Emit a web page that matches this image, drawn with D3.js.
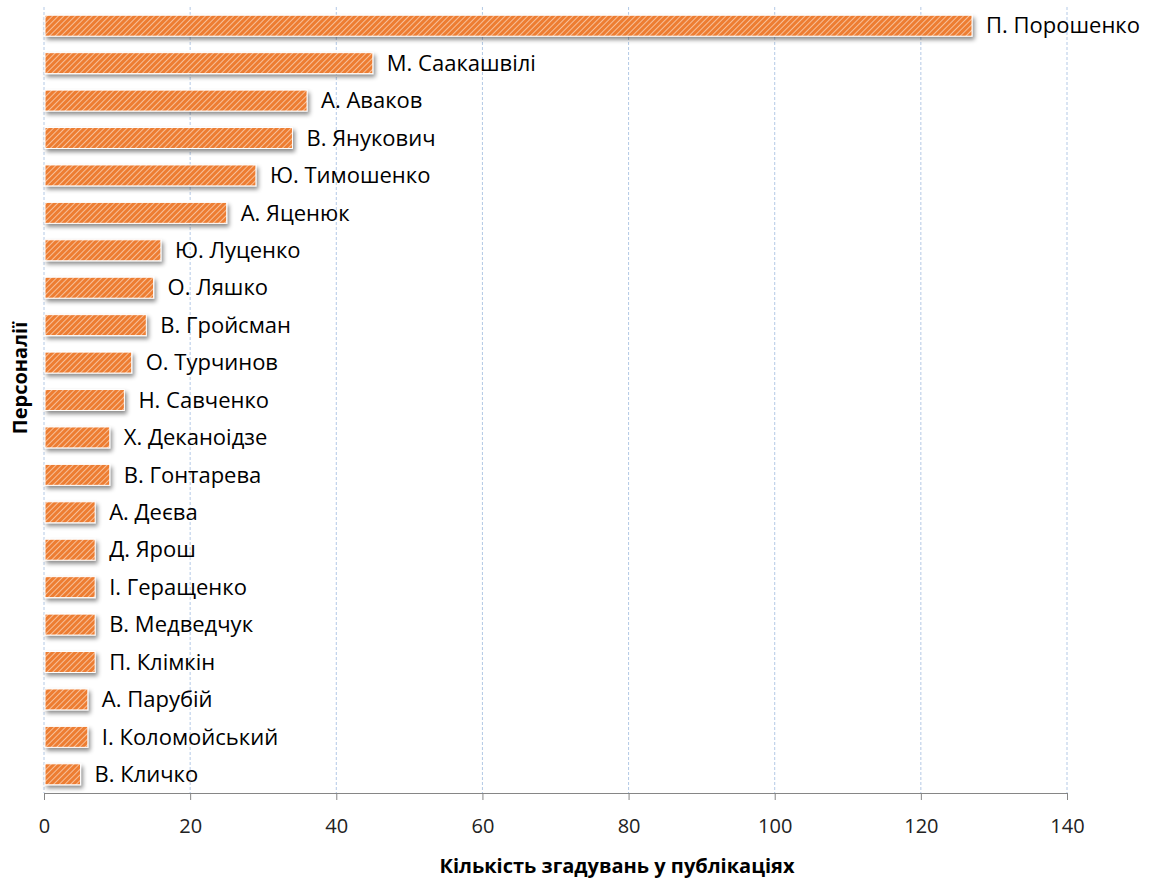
<!DOCTYPE html>
<html>
<head>
<meta charset="utf-8">
<script src="https://cdn.jsdelivr.net/npm/d3@7"></script>
<style>
	body { margin: 0; background: #fff; }
	svg { display: block; }
</style>
</head>
<body>
<svg id="chart" width="1150" height="879"></svg>
<script>
var names = ["П. Порошенко", "М. Саакашвілі", "А. Аваков", "В. Янукович", "Ю. Тимошенко",
	"А. Яценюк", "Ю. Луценко", "О. Ляшко", "В. Гройсман", "О. Турчинов", "Н. Савченко",
	"Х. Деканоідзе", "В. Гонтарева", "А. Деєва", "Д. Ярош", "І. Геращенко", "В. Медведчук",
	"П. Клімкін", "А. Парубій", "І. Коломойський", "В. Кличко"];
var mentions = [127, 45, 36, 34, 29, 25, 16, 15, 14, 12, 11, 9, 9, 7, 7, 7, 7, 7, 6, 6, 5];
var xTicks = [0, 20, 40, 60, 80, 100, 120, 140];

var svg = d3.select("#chart");
var plotLeft = 44, plotRight = 1067, plotTop = 7, plotBottom = 793;
var font = "'Open Sans', sans-serif";

var x = d3.scaleLinear().domain([0, 140]).range([plotLeft, plotRight]);
var y = d3.scaleBand().domain(names).range([plotTop, plotBottom]).paddingInner(0.44).paddingOuter(0.22);

var defs = svg.append("defs");
var pat = defs.append("pattern")
	.attr("id", "hatch")
	.attr("patternUnits", "userSpaceOnUse")
	.attr("width", 4).attr("height", 4)
	.attr("patternTransform", "rotate(45)");
pat.append("rect").attr("width", 4).attr("height", 4).attr("fill", "#ED7D31");
pat.append("line").attr("x1", 0).attr("y1", 0).attr("x2", 0).attr("y2", 4)
	.attr("stroke", "#fcdcc6").attr("stroke-width", 1.4);

var shadow = defs.append("filter").attr("id", "shadow")
	.attr("x", "-10%").attr("y", "-30%").attr("width", "130%").attr("height", "190%");
shadow.append("feDropShadow").attr("dx", 2).attr("dy", 3).attr("stdDeviation", 2)
	.attr("flood-color", "#000").attr("flood-opacity", 0.45);

// gridlines
svg.append("g").selectAll("line").data(xTicks).enter().append("line")
	.attr("x1", function (d) { return x(d); }).attr("x2", function (d) { return x(d); })
	.attr("y1", plotTop).attr("y2", plotBottom)
	.attr("stroke", "#b3c9e6").attr("stroke-width", 1).attr("stroke-dasharray", "3,2");

// bars
svg.append("g").selectAll("rect").data(names).enter().append("rect")
	.attr("x", x(0) + 1)
	.attr("y", function (d) { return y(d); })
	.attr("width", function (d, i) { return x(mentions[i]) - x(0) - 1; })
	.attr("height", y.bandwidth())
	.attr("fill", "url(#hatch)")
	.attr("stroke", "#fff").attr("stroke-width", 1)
	.attr("filter", "url(#shadow)");

// labels
svg.append("g").selectAll("text").data(names).enter().append("text")
	.attr("x", function (d, i) { return x(mentions[i]) + 14; })
	.attr("y", function (d) { return y(d) + y.bandwidth() / 2; })
	.attr("dy", "0.35em")
	.attr("font-family", font).attr("font-size", 22).attr("fill", "#000")
	.text(function (d) { return d; });

// x axis
var xAxis = svg.append("g").attr("transform", "translate(0," + plotBottom + ")")
	.call(d3.axisBottom(x).tickValues(xTicks).tickSize(7).tickPadding(19).tickSizeOuter(0));
xAxis.select(".domain").attr("stroke", "#868686");
xAxis.selectAll(".tick line").attr("stroke", "#868686");
xAxis.selectAll("text").attr("font-family", font).attr("font-size", 20).attr("fill", "#222");

svg.append("text")
	.attr("x", 617).attr("y", 873)
	.attr("text-anchor", "middle")
	.attr("font-family", font).attr("font-size", 20).attr("font-weight", "bold")
	.text("Кількість згадувань у публікаціях");

svg.append("text")
	.attr("transform", "translate(27," + 378 + ") rotate(-90)")
	.attr("text-anchor", "middle")
	.attr("font-family", font).attr("font-size", 20).attr("font-weight", "bold")
	.text("Персоналії");
</script>
</body>
</html>
